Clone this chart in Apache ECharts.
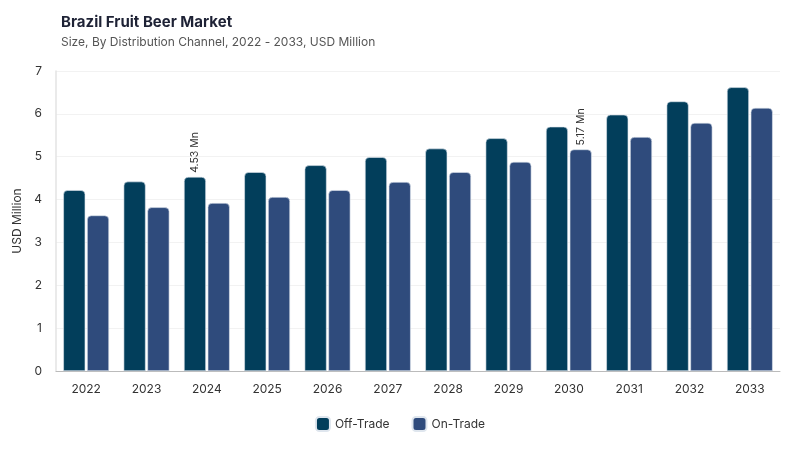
<!DOCTYPE html>
<html>
<head>
<meta charset="utf-8">
<script src="https://cdn.jsdelivr.net/npm/echarts@6/dist/echarts.min.js"></script>
<style>
  html, body { margin: 0; padding: 0; background: #fff; }
  #chart { width: 800px; height: 450px; }
</style>
</head>
<body>
<div id="chart"></div>
<script>
// data
const years = ['2022', '2023', '2024', '2025', '2026', '2027', '2028', '2029', '2030', '2031', '2032', '2033']
const offTrade = [4.22, 4.42, 4.53, 4.64, 4.80, 4.99, 5.19, 5.43, 5.70, 5.98, 6.29, 6.62]
const onTrade = [3.63, 3.82, 3.92, 4.06, 4.22, 4.41, 4.64, 4.88, 5.17, 5.46, 5.79, 6.14]
const yTicks = [0, 1, 2, 3, 4, 5, 6, 7]

// only some bars carry a value label
const offLabelAt = [2]
const onLabelAt = [8]

const font = 'Inter, "Noto Sans", sans-serif'

function withLabels (values, idxs) {
  return values.map((v, i) => {
    if (idxs.indexOf(i) < 0) return v
    return {
      value: v,
      label: {
        show: true,
        position: 'top',
        rotate: 90,
        align: 'left',
        verticalAlign: 'middle',
        distance: 4,
        fontSize: 10.5,
        color: '#333',
        fontFamily: font,
        formatter: p => p.value.toFixed(2) + ' Mn'
      }
    }
  })
}

const chart = echarts.init(document.getElementById('chart'))
chart.setOption({
  animation: false,
  title: {
    text: 'Brazil Fruit Beer Market',
    subtext: 'Size, By Distribution Channel, 2022 - 2033, USD Million',
    left: 56,
    top: 10,
    itemGap: 6,
    textStyle: { fontFamily: font, fontSize: 15, fontWeight: 'bold', color: '#1e2235' },
    subtextStyle: { fontFamily: font, fontSize: 12, color: '#555' }
  },
  legend: {
    bottom: 13,
    left: 'center',
    itemWidth: 14,
    itemHeight: 14,
    itemGap: 22,
    icon: 'roundRect',
    textStyle: { fontFamily: font, fontSize: 12, color: '#333' },
    data: ['Off-Trade', 'On-Trade']
  },
  grid: { left: 56, right: 20, top: 71, bottom: 79 },
  xAxis: {
    type: 'category',
    data: years,
    axisTick: { show: false },
    axisLine: { lineStyle: { color: '#bbb' } },
    axisLabel: { fontFamily: font, fontSize: 12, color: '#333', margin: 12 }
  },
  yAxis: {
    type: 'value',
    min: yTicks[0],
    max: yTicks[yTicks.length - 1],
    interval: 1,
    name: 'USD Million',
    nameLocation: 'middle',
    nameGap: 27,
    nameTextStyle: { fontFamily: font, fontSize: 12, color: '#333' },
    axisLine: { show: true, lineStyle: { color: '#e3e3e3', width: 1.5 } },
    axisLabel: { fontFamily: font, fontSize: 12, color: '#333', margin: 14 },
    splitLine: { lineStyle: { color: '#f2f2f2' } }
  },
  series: [
    {
      name: 'Off-Trade',
      type: 'bar',
      data: withLabels(offTrade, offLabelAt),
      barWidth: 22,
      barGap: '8%',
      itemStyle: { color: '#023e5b', borderRadius: [4, 4, 0, 0], borderColor: '#dfe6ee', borderWidth: 0.6 }
    },
    {
      name: 'On-Trade',
      type: 'bar',
      data: withLabels(onTrade, onLabelAt),
      barWidth: 22,
      itemStyle: { color: '#2f4b7c', borderRadius: [4, 4, 0, 0], borderColor: '#dfe6ee', borderWidth: 0.6 }
    }
  ]
})
</script>
</body>
</html>
